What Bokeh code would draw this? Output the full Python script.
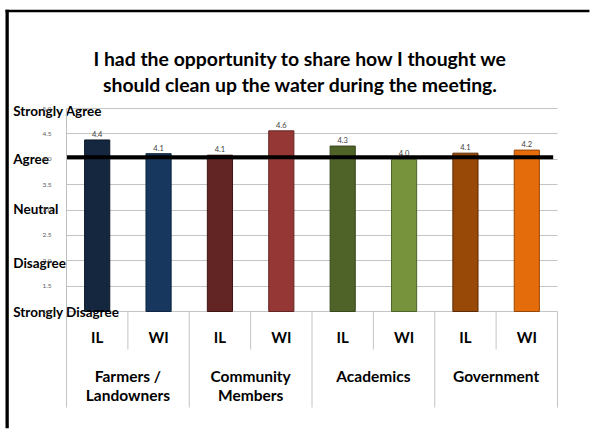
from bokeh.plotting import figure
from bokeh.models import Range1d, FixedTicker, PrintfTickFormatter, ColumnDataSource, BoxAnnotation
from bokeh.core.properties import value
from bokeh.embed import file_html
from bokeh.resources import INLINE

# ---------------- data ----------------
title_lines = ["I had the opportunity to share how I thought we",
               "should clean up the water during the meeting."]
states = ["IL", "WI", "IL", "WI", "IL", "WI", "IL", "WI"]
groups = ["Farmers /\nLandowners", "Community\nMembers", "Academics", "Government"]
scores = [4.38, 4.11, 4.08, 4.56, 4.26, 4.00, 4.12, 4.18]
reference_level = 4.04
likert_labels = ["Strongly Disagree", "Disagree", "Neutral", "Agree", "Strongly Agree"]
likert_values = [1, 2, 3, 4, 5]
y_ticks = [1.0, 1.5, 2.0, 2.5, 3.0, 3.5, 4.0, 4.5, 5.0]
bar_colors = ["#14273F", "#17375E", "#632523", "#953735", "#4F6228", "#77933C", "#984807", "#E46C0A"]
bar_edges = ["#0B1726", "#10253F", "#3F1514", "#632523", "#3A481D", "#4F6228", "#5E2C04", "#984807"]

FONT = "Lato"
n = len(states)

X0, X1 = -1.0754, 8.5703
Y0, Y1 = -1.581, 7.128

p = figure(width=592, height=442, title=None,
           x_range=Range1d(X0, X1), y_range=Range1d(Y0, Y1),
           output_backend="svg", toolbar_location=None, x_axis_location=None,
           min_border_left=0, min_border_right=0, min_border_top=0, min_border_bottom=0)
p.outline_line_color = None
p.background_fill_color = "white"
p.border_fill_color = "white"

tk = FixedTicker(ticks=y_ticks)
ax = p.yaxis[0]
ax.ticker = tk
ax.fixed_location = 0
ax.bounds = (1, 5)
ax.formatter = PrintfTickFormatter(format="%.1f")
ax.major_tick_line_color = None
ax.minor_tick_line_color = None
ax.axis_line_color = "#bfbfbf"
ax.major_label_text_font_size = "6.5px"
ax.major_label_text_color = "#595959"
ax.major_label_text_font = FONT
ax.major_label_standoff = 9

gr = p.ygrid[0]
gr.ticker = tk
gr.grid_line_color = "#c4c4c4"
try:
    gr.cross_bounds = (0, n)
except Exception:
    p.add_layout(BoxAnnotation(right=0, fill_color="white", fill_alpha=1, line_color=None, level="underlay"))
    p.add_layout(BoxAnnotation(left=n, fill_color="white", fill_alpha=1, line_color=None, level="underlay"))
for g in p.xgrid:
    g.visible = False

# slide frame: top rule and left rule as filled annotation boxes
p.add_layout(BoxAnnotation(left=-0.9939, right=X1 - 0.05, top=6.9448, bottom=6.8975,
                           fill_color="black", fill_alpha=1, line_color=None))
p.add_layout(BoxAnnotation(left=-0.9939, right=-0.9402, top=6.9448, bottom=-1.3,
                           fill_color="black", fill_alpha=1, line_color=None))

xs = [i + 0.5 for i in range(n)]
src = ColumnDataSource(dict(x=xs, top=scores, fill=bar_colors, edge=bar_edges,
                            label=[f"{v:.1f}" for v in scores]))
p.vbar(x="x", top="top", bottom=1, width=0.41, fill_color="fill", line_color="edge",
       line_width=1, source=src)
p.text(x="x", y="top", text="label", source=src, text_align="center", text_baseline="bottom",
       y_offset=-3, text_font_size="7.5px", text_color="#404040", text_font=value(FONT))

p.segment(x0=[0], y0=[reference_level], x1=[n - 0.07], y1=[reference_level],
          line_color="black", line_width=4)

# category separators
inner = [i for i in range(1, n, 2)]
outer = [i for i in range(0, n + 1, 2)]
p.segment(x0=inner, y0=[1] * len(inner), x1=inner, y1=[0.251] * len(inner),
          line_color="#c4c4c4", line_width=1)
p.segment(x0=outer, y0=[1] * len(outer), x1=outer, y1=[-0.892] * len(outer),
          line_color="#c4c4c4", line_width=1)

p.text(x=xs, y=[0.488] * n, text=states, text_align="center", text_baseline="middle",
       text_font_size="15px", text_font_style="bold", text_color="black", text_font=value(FONT))

gx, gy, gt = [], [], []
for j, g in enumerate(groups):
    for k, line in enumerate(g.split("\n")):
        gx.append(2 * j + 1)
        gy.append(-0.261 - 0.384 * k)
        gt.append(line)
p.text(x=gx, y=gy, text=gt, text_align="center", text_baseline="middle",
       text_font_size="15.5px", text_font_style="bold", text_color="black", text_font=value(FONT))

offsets = {1: 0.0, 2: -0.05, 3: 0.02, 4: 0.0, 5: -0.05}
p.text(x=[-0.868] * len(likert_values), y=[v + offsets[v] for v in likert_values], text=likert_labels,
       text_align="left", text_baseline="middle", text_font_size="13.5px", text_font_style="bold",
       text_color="black", text_font=value(FONT))

p.text(x=[3.81, 3.81], y=[5.985, 5.473], text=title_lines, text_align="center", text_baseline="middle",
       text_font_size="19.4px", text_font_style="bold", text_color="black", text_font=value(FONT))

open("out.html", "w").write(file_html(p, INLINE))
